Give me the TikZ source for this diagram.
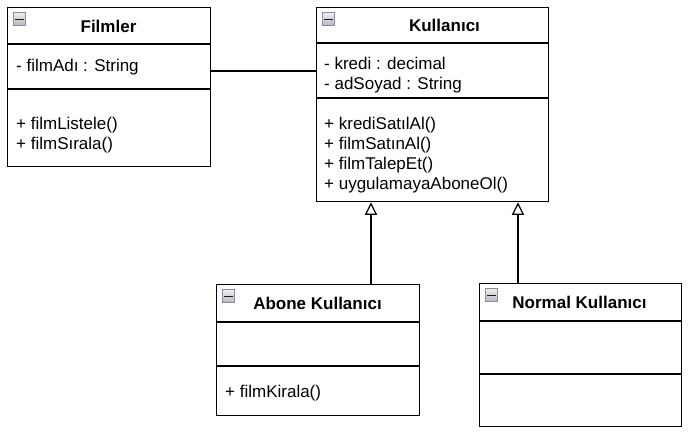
\documentclass[tikz,border=0pt]{standalone}
\usepackage{fontspec}
\setmainfont{Liberation Sans}
\usetikzlibrary{arrows.meta}
\definecolor{iconborder}{HTML}{8A8AA2}
\definecolor{icontop}{HTML}{EEEEEE}
\definecolor{iconbot}{HTML}{B8B8C0}
\tikzset{
  classbox/.style={draw=black, line width=1.3bp, fill=white, inner sep=0pt, anchor=north west},
  divider/.style={draw=black, line width=1.3bp},
  ttl/.style={font=\fontsize{17bp}{20bp}\selectfont\bfseries, inner sep=0pt, anchor=base},
  txt/.style={font=\fontsize{17bp}{20bp}\selectfont, inner sep=0pt, anchor=base west},
  icon/.style={draw=iconborder, line width=0.9bp, top color=icontop, bottom color=iconbot, minimum width=12.5bp, minimum height=12.5bp, inner sep=0pt, anchor=north west},
  iconminus/.style={draw=black!90, line width=1.6bp},
  assoc/.style={draw=black, line width=1.3bp},
  gen/.style={draw=black, line width=1.3bp, -{Triangle[open, length=12.5bp, width=12bp, line width=1.2bp]}},
}
\begin{document}
\begin{tikzpicture}[x=1bp, y=-1bp]
\useasboundingbox (0,0) rectangle (688,434);

% --- classes
\node[classbox, minimum width=203bp, minimum height=159bp] (filmler) at (7,7) {};
\node[classbox, minimum width=232bp, minimum height=194bp] (kullanici) at (316,7) {};
\node[classbox, minimum width=203bp, minimum height=131bp] (abone) at (216,284) {};
\node[classbox, minimum width=202bp, minimum height=143bp] (normal) at (479,283) {};

% --- compartments
\draw[divider] ([yshift=-37bp]filmler.north west) -- ([yshift=-37bp]filmler.north east);
\draw[divider] ([yshift=-82bp]filmler.north west) -- ([yshift=-82bp]filmler.north east);
\draw[divider] ([yshift=-36bp]kullanici.north west) -- ([yshift=-36bp]kullanici.north east);
\draw[divider] ([yshift=-91bp]kullanici.north west) -- ([yshift=-91bp]kullanici.north east);
\draw[divider] ([yshift=-38bp]abone.north west) -- ([yshift=-38bp]abone.north east);
\draw[divider] ([yshift=-82bp]abone.north west) -- ([yshift=-82bp]abone.north east);
\draw[divider] ([yshift=-38bp]normal.north west) -- ([yshift=-38bp]normal.north east);
\draw[divider] ([yshift=-91bp]normal.north west) -- ([yshift=-91bp]normal.north east);

% --- collapse icons
\foreach \c in {filmler,kullanici,abone,normal}{
  \node[icon] (icon-\c) at ([shift={(5.8bp,-5.3bp)}]\c.north west) {};
  \draw[iconminus] ([shift={(-4.2bp,-0.6bp)}]icon-\c.center) -- ([shift={(4.2bp,-0.6bp)}]icon-\c.center);
}

% --- titles
\node[ttl] (tfilmler) at (108.5,33) {Filmler};
\node[ttl] (tkullanici) at (444.5,32) {Kullanıcı};
\node[ttl] (tabone) at (317.5,310) {Abone Kullanıcı};
\node[ttl] (tnormal) at (579.5,309) {Normal Kullanıcı};

% --- members
\node[txt] (f1) at (16,72) {- filmAdı : String};
\node[txt] (f2) at (16,130) {+ filmListele()};
\node[txt] (f3) at (16,150) {+ filmSırala()};

\node[txt] (k1) at (324,70) {- kredi : decimal};
\node[txt] (k2) at (324,90) {- adSoyad : String};
\node[txt] (k3) at (324,130) {+ krediSatılAl()};
\node[txt] (k4) at (324,150) {+ filmSatınAl()};
\node[txt] (k5) at (324,170) {+ filmTalepEt()};
\node[txt] (k6) at (324,190) {+ uygulamayaAboneOl()};

\node[txt] (a1) at (225,397) {+ filmKirala()};

% --- connectors
\coordinate (asy) at (0,71);
\draw[assoc] (filmler.east |- asy) -- (kullanici.west |- asy);
\coordinate (g1) at (371,0);
\coordinate (g2) at (518,0);
\draw[gen] (abone.north -| g1) -- (kullanici.south -| g1);
\draw[gen] (normal.north -| g2) -- (kullanici.south -| g2);
\end{tikzpicture}
\end{document}
